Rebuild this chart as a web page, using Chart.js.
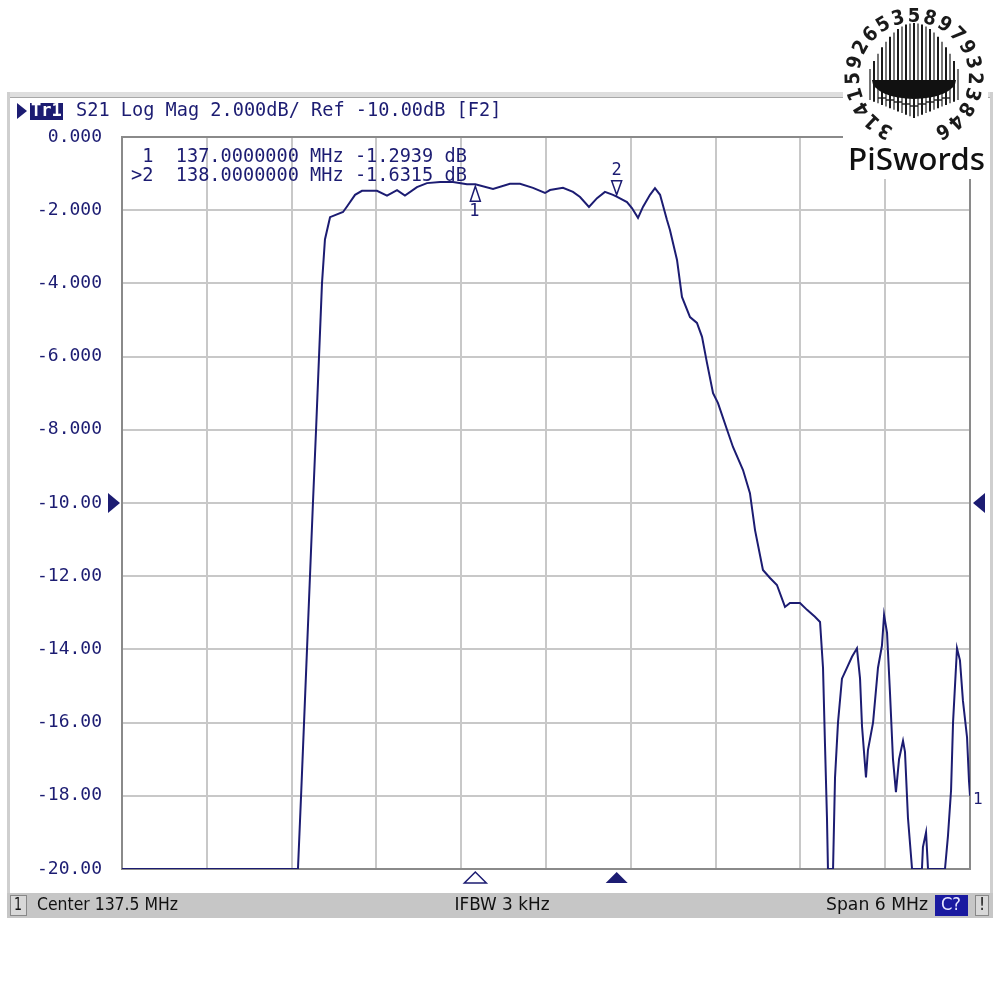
<!DOCTYPE html>
<html>
<head>
<meta charset="utf-8">
<title>S21 Log Mag</title>
<script src="https://cdn.jsdelivr.net/npm/chart.js@4.4.1/dist/chart.umd.min.js"></script>
<style>
  html, body { margin: 0; padding: 0; background: #fff; }
  #wrap { position: relative; width: 1000px; height: 1000px; }
</style>
</head>
<body>
<div id="wrap"><canvas id="vna" width="1000" height="1000"></canvas></div>
<script>
// trace data (MHz / dB)
const freqMHz = [
  134.5, 135.745, 135.767, 135.788, 135.809, 135.830, 135.851, 135.873, 135.894, 135.915,
  135.936, 135.972, 136.064, 136.092, 136.149, 136.198, 136.304, 136.375, 136.446, 136.502,
  136.587, 136.658, 136.750, 136.842, 136.941, 137.000, 137.125, 137.245, 137.316, 137.408,
  137.493, 137.528, 137.620, 137.691, 137.741, 137.804, 137.861, 137.917, 137.974, 138.000,
  138.073, 138.108, 138.151, 138.186, 138.236, 138.271, 138.307, 138.356, 138.377, 138.427,
  138.462, 138.519, 138.568, 138.604, 138.639, 138.682, 138.717, 138.781, 138.823, 138.894,
  138.943, 138.979, 139.035, 139.085, 139.134, 139.191, 139.226, 139.297, 139.347, 139.403,
  139.439, 139.460, 139.474, 139.488, 139.495, 139.531, 139.545, 139.566, 139.594, 139.630,
  139.665, 139.700, 139.722, 139.736, 139.764, 139.778, 139.814, 139.849, 139.877, 139.892,
  139.913, 139.934, 139.955, 139.976, 139.998, 140.026, 140.040, 140.061, 140.090, 140.160,
  140.167, 140.189, 140.203, 140.323, 140.344, 140.366, 140.380, 140.408, 140.429, 140.450,
  140.479, 140.493, 140.5
];
const s21dB = [
  -20, -20, -18, -16, -14, -12, -10, -8, -6, -4,
  -2.8, -2.19, -2.05, -1.9, -1.58, -1.47, -1.47, -1.6, -1.45, -1.6,
  -1.37, -1.26, -1.23, -1.23, -1.29, -1.29, -1.42, -1.28, -1.28, -1.39,
  -1.53, -1.45, -1.39, -1.5, -1.64, -1.91, -1.67, -1.5, -1.58, -1.63,
  -1.78, -1.94, -2.21, -1.91, -1.58, -1.4, -1.58, -2.27, -2.54, -3.36,
  -4.37, -4.92, -5.08, -5.46, -6.17, -7.0, -7.27, -8.0, -8.47, -9.1,
  -9.73, -10.74, -11.83, -12.05, -12.24, -12.84, -12.73, -12.73, -12.92, -13.11,
  -13.25, -14.5, -16.6, -18.6, -20, -20, -17.5, -16.0, -14.8, -14.5,
  -14.2, -13.97, -14.8, -16.1, -17.5, -16.75, -16.0, -14.5, -13.9, -13.06,
  -13.55, -15.2, -17.0, -17.9, -17.0, -16.5, -16.8, -18.6, -20, -20,
  -19.4, -19.0, -20, -20, -19.1, -17.85, -16.0, -13.97, -14.3, -15.4,
  -16.4, -17.6, -18.0
];

const gridFreqs = [134.5, 135.1, 135.7, 136.3, 136.9, 137.5, 138.1, 138.7, 139.3, 139.9, 140.5];
const yTicks = [0, -2, -4, -6, -8, -10, -12, -14, -16, -18, -20];
const yTickLabels = ['0.000', '-2.000', '-4.000', '-6.000', '-8.000', '-10.00',
                     '-12.00', '-14.00', '-16.00', '-18.00', '-20.00'];

const markerNames = ['1', '2'];
const markerFreq = [137.0, 138.0];
const markerValue = [-1.2939, -1.6315];
const refLevel = -10;

const headerText = 'S21 Log Mag 2.000dB/ Ref -10.00dB [F2]';
const statusLeft = 'Center 137.5 MHz';
const statusMid = 'IFBW 3 kHz';
const statusRight = 'Span 6 MHz';
const piDigits = '314159265358979323846';

const NAVY = '#1c1c72';
const MONO = '"DejaVu Sans Mono", monospace';
const COND = '"DejaVu Sans Condensed", "DejaVu Sans", sans-serif';

function tri(ctx, pts, fill) {
  ctx.beginPath();
  ctx.moveTo(pts[0], pts[1]);
  ctx.lineTo(pts[2], pts[3]);
  ctx.lineTo(pts[4], pts[5]);
  ctx.closePath();
  if (fill) ctx.fill(); else ctx.stroke();
}

// draw text squeezed/stretched to a given width
function fitText(ctx, text, x, y, w, align) {
  const m = ctx.measureText(text).width;
  const k = w / m;
  ctx.save();
  let left = x;
  if (align === 'center') left = x - w / 2;
  if (align === 'right') left = x - w;
  ctx.translate(left, y);
  ctx.scale(k, 1);
  ctx.textAlign = 'left';
  ctx.fillText(text, 0, 0);
  ctx.restore();
}

// window frame, header and status bar
const framePlugin = {
  id: 'vnaFrame',
  beforeDraw(chart) {
    const ctx = chart.ctx;
    ctx.save();
    ctx.fillStyle = '#fff';
    ctx.fillRect(0, 0, 1000, 1000);

    // outer frame
    ctx.fillStyle = '#dedede';
    ctx.fillRect(7, 92, 986, 5);
    ctx.fillStyle = '#a8a8a8';
    ctx.fillRect(7, 97, 986, 1);
    ctx.fillStyle = '#cfcfcf';
    ctx.fillRect(7, 92, 3, 826);
    ctx.fillRect(990, 92, 3, 826);

    // header line
    ctx.fillStyle = NAVY;
    tri(ctx, [17, 103, 27, 111, 17, 119], true);
    ctx.fillRect(30, 103, 33, 17);
    ctx.textBaseline = 'middle';
    ctx.textAlign = 'left';
    ctx.fillStyle = '#fff';
    ctx.font = 'bold 17px ' + MONO;
    ctx.fillText('Tr1', 31, 112);
    ctx.fillStyle = NAVY;
    ctx.font = '18.6px ' + MONO;
    ctx.fillText(headerText, 76, 111);

    // status bar
    ctx.fillStyle = '#c6c6c6';
    ctx.fillRect(7, 893, 986, 25);
    ctx.fillStyle = '#d8d8d8';
    ctx.fillRect(10, 895, 17, 21);
    ctx.strokeStyle = '#888';
    ctx.lineWidth = 1;
    ctx.strokeRect(10.5, 895.5, 16, 20);
    ctx.fillStyle = '#1a1aa0';
    ctx.fillRect(935, 895, 33, 21);
    ctx.fillStyle = '#d8d8d8';
    ctx.fillRect(975, 895, 14, 21);
    ctx.strokeRect(975.5, 895.5, 13, 20);
    ctx.font = '17px ' + COND;
    ctx.fillStyle = '#111';
    fitText(ctx, '1', 14, 906, 8, 'left');
    fitText(ctx, statusLeft, 37, 906, 141, 'left');
    fitText(ctx, statusMid, 502, 906, 95, 'center');
    fitText(ctx, statusRight, 928, 906, 102, 'right');
    ctx.textAlign = 'center';
    ctx.fillText('!', 982, 906);
    ctx.fillStyle = '#e8e8ff';
    fitText(ctx, 'C?', 951, 906, 20, 'center');
    ctx.restore();
  },
  beforeDatasetsDraw(chart) {
    const ctx = chart.ctx;
    const area = chart.chartArea;
    ctx.save();
    ctx.strokeStyle = '#8a8a8a';
    ctx.lineWidth = 2;
    ctx.strokeRect(area.left, area.top, area.right - area.left, area.bottom - area.top);
    ctx.restore();
  },
  afterDraw(chart) {
    const ctx = chart.ctx;
    const xs = chart.scales.x, ys = chart.scales.y;
    const area = chart.chartArea;
    ctx.save();

    // marker readout
    ctx.font = '18.6px ' + MONO;
    ctx.fillStyle = NAVY;
    ctx.textAlign = 'left';
    ctx.textBaseline = 'middle';
    markerNames.forEach((n, i) => {
      const pre = (i === markerNames.length - 1 ? '>' : ' ') + n + '  ';
      const line = pre + markerFreq[i].toFixed(7) + ' MHz ' + markerValue[i].toFixed(4) + ' dB';
      ctx.fillText(line, 131, 157 + i * 19);
    });

    // markers on the trace
    ctx.strokeStyle = NAVY;
    ctx.lineWidth = 1.5;
    ctx.font = '17px ' + MONO;
    ctx.textAlign = 'center';
    markerNames.forEach((n, i) => {
      const px = xs.getPixelForValue(markerFreq[i]);
      const py = ys.getPixelForValue(markerValue[i]);
      if (i === 0) {
        tri(ctx, [px, py + 2, px - 5, py + 17, px + 5, py + 17], false);
        ctx.fillText(n, px - 1, py + 27);
      } else {
        tri(ctx, [px, py - 2, px - 5, py - 16, px + 5, py - 16], false);
        ctx.fillText(n, px, py - 26);
      }
      // stimulus markers under the grid
      ctx.fillStyle = NAVY;
      const fillIt = i === markerNames.length - 1;
      tri(ctx, [px, area.bottom + 3, px - 11, area.bottom + 14, px + 11, area.bottom + 14], fillIt);
    });

    // reference level arrows
    const ry = ys.getPixelForValue(refLevel);
    ctx.fillStyle = NAVY;
    tri(ctx, [108, ry - 10, 120, ry, 108, ry + 10], true);
    tri(ctx, [985, ry - 10, 973, ry, 985, ry + 10], true);

    // trace number at end of trace
    const endY = ys.getPixelForValue(s21dB[s21dB.length - 1]);
    ctx.font = '16px ' + MONO;
    ctx.textAlign = 'left';
    ctx.fillText('1', 973, endY + 4);

    // logo
    ctx.fillStyle = '#fff';
    ctx.fillRect(843, 0, 145, 179);
    const cx = 914, cy = 77, r = 60;
    ctx.fillStyle = '#1a1a1a';
    ctx.font = 'bold 20px "DejaVu Sans Condensed", "DejaVu Sans", sans-serif';
    ctx.textAlign = 'center';
    ctx.textBaseline = 'middle';
    const a0 = -152, a1 = 152;
    for (let i = 0; i < piDigits.length; i++) {
      const a = (a0 + (a1 - a0) * i / (piDigits.length - 1)) * Math.PI / 180;
      ctx.save();
      ctx.translate(cx + r * Math.sin(a), cy - r * Math.cos(a));
      ctx.rotate(a);
      ctx.fillText(piDigits[i], 0, 0);
      ctx.restore();
    }
    // swords
    ctx.strokeStyle = '#1a1a1a';
    for (let k = -11; k <= 11; k++) {
      const x = cx + k * 4;
      const t = Math.abs(k) / 11;
      const top = 23 + 46 * t * t;
      const bot = 118 - 18 * t;
      ctx.lineWidth = k % 2 === 0 ? 2 : 1.2;
      ctx.beginPath();
      ctx.moveTo(x, top);
      ctx.lineTo(x, bot);
      ctx.stroke();
    }
    ctx.fillStyle = '#111';
    ctx.beginPath();
    ctx.ellipse(cx, 80, 42, 19, 0, 0, Math.PI);
    ctx.fill();
    ctx.lineWidth = 1.4;
    for (let k = -8; k <= 8; k += 2) {
      const x = cx + k * 4;
      ctx.beginPath();
      ctx.moveTo(x - 4, 106 - Math.abs(k));
      ctx.lineTo(x + 4, 106 - Math.abs(k));
      ctx.stroke();
    }
    // name
    ctx.fillStyle = '#111';
    ctx.textAlign = 'left';
    ctx.textBaseline = 'alphabetic';
    ctx.font = '500 31px "Noto Sans", sans-serif';
    fitText(ctx, 'PiSwords', 848, 170, 137, 'left');
    ctx.restore();
  }
};

new Chart(document.getElementById('vna'), {
  type: 'line',
  data: {
    datasets: [{
      label: 'S21',
      data: freqMHz.map((f, i) => ({ x: f, y: s21dB[i] })),
      borderColor: NAVY,
      borderWidth: 2,
      pointRadius: 0,
      tension: 0,
      fill: false
    }]
  },
  options: {
    responsive: false,
    animation: false,
    devicePixelRatio: 1,
    layout: { padding: { left: 0, top: 137, right: 30, bottom: 131 } },
    plugins: {
      legend: { display: false },
      tooltip: { enabled: false }
    },
    scales: {
      x: {
        type: 'linear',
        min: 134.5,
        max: 140.5,
        afterBuildTicks: (s) => { s.ticks = gridFreqs.map(v => ({ value: v })); },
        afterFit: (s) => { s.height = 0; },
        ticks: { display: false },
        grid: { color: '#c8c8c8', lineWidth: 2, drawTicks: false },
        border: { display: false }
      },
      y: {
        min: -20,
        max: 0,
        afterBuildTicks: (s) => { s.ticks = yTicks.map(v => ({ value: v })); },
        afterFit: (s) => { s.width = 122; },
        ticks: {
          padding: 20,
          color: NAVY,
          font: { family: 'DejaVu Sans Mono', size: 18 },
          callback: (v) => yTickLabels[yTicks.indexOf(v)]
        },
        grid: { color: '#c8c8c8', lineWidth: 2, drawTicks: false },
        border: { display: false }
      }
    }
  },
  plugins: [framePlugin]
});
</script>
</body>
</html>
